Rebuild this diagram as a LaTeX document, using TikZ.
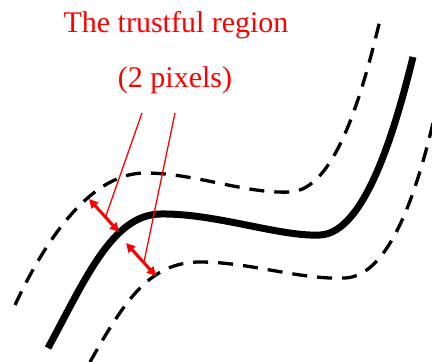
\documentclass[tikz,border=0pt]{standalone}
\usepackage{fontspec}
\setmainfont{Liberation Serif}
\usetikzlibrary{arrows.meta,calc}
\begin{document}
\begin{tikzpicture}[x=1pt,y=-1pt,
  mainline/.style={line width=7pt,line cap=butt},
  bound/.style={line width=3.3pt,dash pattern=on 15pt off 10pt},
  pointer/.style={red,line width=1.3pt},
  twoway/.style={red,line width=3pt,{Triangle[length=9pt,width=9pt]}-{Triangle[length=9pt,width=9pt]}},
  lab/.style={red,font=\fontsize{30}{36}\selectfont,inner sep=0pt}]
\useasboundingbox (0,0) rectangle (432,362);
\draw[mainline] (48,348) .. controls (85,280) and (112,215) .. (160,214)
  .. controls (215,213) and (280,237) .. (320,235)
  .. controls (365,233) and (395,130) .. (413,57);
\draw[bound] (15,305) .. controls (50,230) and (95,173) .. (145,173)
  .. controls (195,173) and (245,194) .. (290,192)
  .. controls (335,190) and (362,95) .. (380,20);
\draw[bound] (90,362) .. controls (125,300) and (150,262) .. (200,262)
  .. controls (250,262) and (300,280) .. (345,278)
  .. controls (390,276) and (418,190) .. (436,110);
\node[lab] (title) at (176,25) {The trustful region};
\node[lab] (px) at (175,80) {(2 pixels)};
\coordinate (a1s) at (89,199);
\coordinate (a1e) at (119,232);
\coordinate (a2s) at (126,243);
\coordinate (a2e) at (156,276);
\coordinate (p1) at (142,113);
\coordinate (p2) at (175,113);
\coordinate (q2) at (144,262);
\draw[twoway] (a1s) -- (a1e);
\draw[twoway] (a2s) -- (a2e);
\draw[pointer] (p1) -- ($(a1s)!0.55!(a1e)$);
\draw[pointer] (p2) -- (q2);
\end{tikzpicture}
\end{document}
